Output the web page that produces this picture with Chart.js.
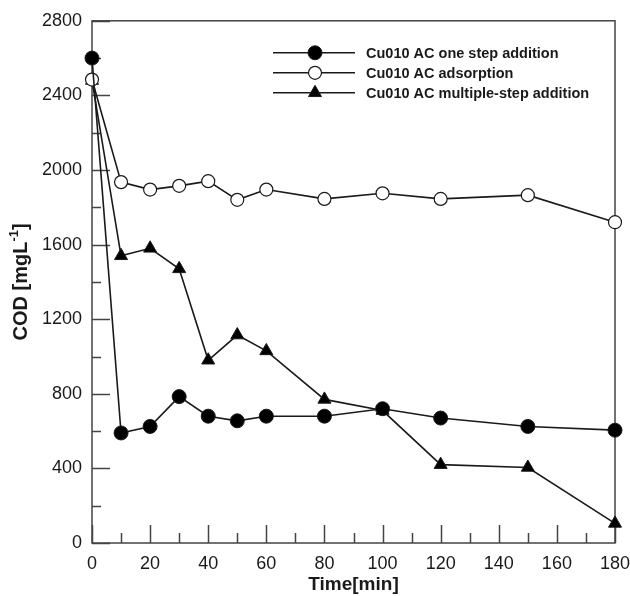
<!DOCTYPE html>
<html>
<head>
<meta charset="utf-8">
<script src="https://cdn.jsdelivr.net/npm/chart.js@4.4.1/dist/chart.umd.min.js"></script>
<style>
  html, body { margin: 0; padding: 0; background: #fff; }
  #wrap { width: 630px; height: 596px; position: relative; }
</style>
</head>
<body>
<div id="wrap"><canvas id="cod"></canvas></div>
<script>
'use strict';

// ── Data ──────────────────────────────────────────────────────────────────────

const times      = [0, 10, 20, 30, 40, 50, 60, 80, 100, 120, 150, 180];
const oneStep    = [2600, 590, 625, 785, 680, 655, 680, 680, 720, 670, 625, 605];
const adsorption = [2485, 1935, 1895, 1915, 1940, 1840, 1895, 1845, 1875, 1845, 1865, 1720];
const multiStep  = [2480, 1540, 1580, 1470, 980, 1115, 1030, 770, 710, 420, 405, 105];

const seriesNames = [
  'Cu010 AC one step addition',
  'Cu010 AC adsorption',
  'Cu010 AC multiple-step addition',
];

const xMajor = [0, 20, 40, 60, 80, 100, 120, 140, 160, 180];
const yMajor = [0, 400, 800, 1200, 1600, 2000, 2400, 2800];

const INK = '#1a1a1a';
const FRAME = '#444';
const FONT = "Arial, 'Liberation Sans', sans-serif";

const pts = vals => vals.map((v, i) => ({ x: times[i], y: v }));

// ── Plugins ───────────────────────────────────────────────────────────────────

// inward major/minor ticks plus the closed frame
const frameTicks = {
  id: 'frameTicks',
  beforeDatasetsDraw(chart) {
    const { ctx, chartArea: a, scales: { x, y } } = chart;
    ctx.save();
    ctx.strokeStyle = FRAME;
    ctx.lineWidth = 1.5;
    ctx.beginPath();
    x.ticks.forEach(t => {
      const px = Math.round(x.getPixelForValue(t.value)) + 0.5;
      const len = xMajor.includes(t.value) ? 18 : 10;
      ctx.moveTo(px, a.bottom);
      ctx.lineTo(px, a.bottom - len);
    });
    y.ticks.forEach(t => {
      const py = Math.round(y.getPixelForValue(t.value)) + 0.5;
      const len = yMajor.includes(t.value) ? 18 : 9;
      ctx.moveTo(a.left, py);
      ctx.lineTo(a.left + len, py);
    });
    ctx.stroke();
    ctx.strokeRect(a.left, a.top, a.right - a.left, a.bottom - a.top);
    ctx.restore();
  },
};

// y title with superscript, and the legend box in the upper right
const annotations = {
  id: 'annotations',
  afterDraw(chart) {
    const { ctx, chartArea: a } = chart;
    ctx.save();

    // y axis title
    ctx.translate(20, (a.top + a.bottom) / 2);
    ctx.rotate(-Math.PI / 2);
    ctx.fillStyle = INK;
    ctx.textBaseline = 'middle';
    ctx.textAlign = 'left';
    const big = `bold 20px ${FONT}`;
    const small = `bold 13px ${FONT}`;
    const main = 'COD [mgL';
    const sup = '-1';
    const tail = ']';
    ctx.font = big;
    const wMain = ctx.measureText(main).width;
    const wTail = ctx.measureText(tail).width;
    ctx.font = small;
    const wSup = ctx.measureText(sup).width;
    let cx = -(wMain + wSup + wTail) / 2;
    ctx.font = big;
    ctx.fillText(main, cx, 1);
    cx += wMain;
    ctx.font = small;
    ctx.fillText(sup, cx, -6);
    cx += wSup;
    ctx.font = big;
    ctx.fillText(tail, cx, 1);
    ctx.setTransform(1, 0, 0, 1, 0, 0);

    // legend
    const lx0 = a.left + 181, lx1 = a.left + 263, mx = a.left + 223, tx = a.left + 274;
    ctx.font = `bold 14.5px ${FONT}`;
    ctx.textAlign = 'left';
    ctx.textBaseline = 'middle';
    chart.data.datasets.forEach((ds, i) => {
      const ly = a.top + 32 + i * 20;
      ctx.strokeStyle = INK;
      ctx.lineWidth = 1.5;
      ctx.beginPath();
      ctx.moveTo(lx0, ly);
      ctx.lineTo(lx1, ly);
      ctx.stroke();
      ctx.fillStyle = ds.pointBackgroundColor;
      ctx.strokeStyle = INK;
      ctx.lineWidth = ds.pointBorderWidth;
      Chart.helpers.drawPoint(ctx, {
        pointStyle: ds.pointStyle,
        radius: ds.pointRadius,
        borderWidth: ds.pointBorderWidth,
      }, mx, ly);
      ctx.fillStyle = INK;
      ctx.fillText(seriesNames[i], tx, ly + 1);
    });
    ctx.restore();
  },
};

// ── Chart ─────────────────────────────────────────────────────────────────────

const base = {
  borderColor: INK,
  borderWidth: 1.6,
  pointBorderColor: INK,
  tension: 0,
  clip: false,
};

new Chart(document.getElementById('cod'), {
  type: 'line',
  data: {
    datasets: [
      { ...base, label: seriesNames[0], data: pts(oneStep),
        pointStyle: 'circle', pointRadius: 7, pointBorderWidth: 1,
        pointBackgroundColor: '#000' },
      { ...base, label: seriesNames[1], data: pts(adsorption),
        pointStyle: 'circle', pointRadius: 6.5, pointBorderWidth: 1.2,
        pointBackgroundColor: '#fff' },
      { ...base, label: seriesNames[2], data: pts(multiStep),
        pointStyle: 'triangle', pointRadius: 7.5, pointBorderWidth: 1,
        pointBackgroundColor: '#000' },
    ],
  },
  options: {
    responsive: true, maintainAspectRatio: false,
    animation: false,
    layout: { padding: { top: 20, right: 0, left: 0, bottom: 0 } },
    plugins: { legend: { display: false }, tooltip: { enabled: false } },
    scales: {
      x: {
        type: 'linear', min: 0, max: 180,
        grid: { display: false, drawTicks: false },
        border: { display: false },
        afterFit: s => { s.height = 53; s.paddingRight = 15; s.paddingLeft = 0; },
        ticks: {
          stepSize: 10, autoSkip: false, maxRotation: 0, padding: 10,
          color: INK, font: { family: FONT, size: 18 },
          callback: v => xMajor.includes(v) ? String(v) : '',
        },
        title: {
          display: true, text: 'Time[min]', color: INK,
          font: { family: FONT, size: 19, weight: 'bold' }, padding: { top: 0, bottom: 0 },
        },
      },
      y: {
        min: 0, max: 2800,
        grid: { display: false, drawTicks: false },
        border: { display: false },
        afterFit: s => { s.width = 92; },
        ticks: {
          stepSize: 200, autoSkip: false, padding: 10,
          color: INK, font: { family: FONT, size: 18 },
          callback: v => yMajor.includes(v) ? String(v) : '',
        },
      },
    },
  },
  plugins: [frameTicks, annotations],
});
</script>
</body>
</html>
